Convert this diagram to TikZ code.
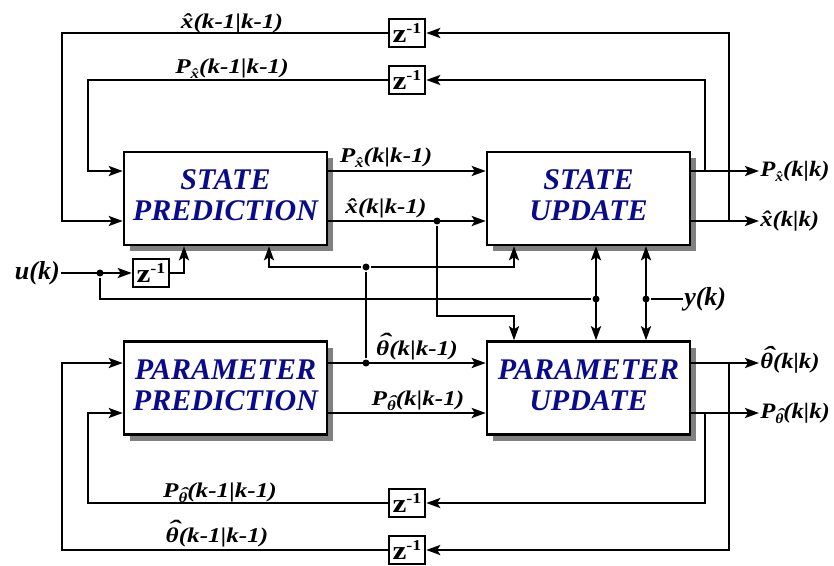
\documentclass[tikz,border=0pt]{standalone}
\usepackage{fontspec}
\usepackage{graphicx}
\setmainfont{Liberation Serif}
\usetikzlibrary{arrows.meta,shadows}
\definecolor{blocktext}{RGB}{10,10,140}

% signal label: bold italic, slightly widened
\newcommand\sig[1]{\scalebox{1.2}[1]{\fontsize{21}{23}\selectfont\bfseries\itshape #1}}
\newcommand\outsig[1]{\scalebox{1.12}[1]{\fontsize{22}{24}\selectfont\bfseries\itshape #1}}
\newcommand\iosig[1]{{\fontsize{26}{28}\selectfont\bfseries\itshape #1}}
% lowered small subscript
\newcommand\lowsub[1]{\raisebox{-5pt}{\fontsize{14}{14}\selectfont #1}}
% theta with a wide hat
\newcommand\thhat{\ooalign{θ\cr\hidewidth\kern0.14em\raisebox{0.24em}{\scalebox{1.5}[1.1]{ˆ}}\hidewidth\cr}}
% unit delay symbol
\newcommand\zinv{\scalebox{1.2}[1]{\fontsize{26}{26}\selectfont\bfseries z\raisebox{9pt}{\fontsize{15}{15}\selectfont -1}}}
% block label depth padding
\newcommand\dpad{\rule[-6pt]{0pt}{6pt}}

\begin{document}
\begin{tikzpicture}[x=1pt,y=-1pt,line width=2.5pt,
  >={Stealth[length=14pt,width=10pt,inset=3pt]},
  block/.style={draw,fill=white,minimum width=203pt,minimum height=93pt,
    inner sep=0pt,align=center,text=blocktext,
    font=\fontsize{30}{31}\selectfont\bfseries\itshape,
    general shadow={fill=black!50,shadow xshift=6pt,shadow yshift=-6pt}},
  delay/.style={draw,fill=white,minimum width=36pt,minimum height=28pt,inner sep=0pt},
  dot/.style={circle,fill,inner sep=0pt,minimum size=7pt},
  lab/.style={inner sep=0pt,anchor=base},
  olab/.style={inner sep=0pt,anchor=west}]
\useasboundingbox (0,0) rectangle (834,565);

% blocks
\node[block] (SP) at (225.5,198.5) {STATE\\PREDICTION\dpad};
\node[block] (SU) at (588.5,198.5) {STATE\\UPDATE\dpad};
\node[block] (PP) at (225.5,388) {PARAMETER\\PREDICTION\dpad};
\node[block] (PU) at (588.5,388) {PARAMETER\\UPDATE\dpad};

% unit delays
\node[delay] (z1) at (407,33) {\zinv};
\node[delay] (z2) at (407,80) {\zinv};
\node[delay] (z3) at (151,273) {\zinv};
\node[delay] (z4) at (407,503) {\zinv};
\node[delay] (z5) at (407,550) {\zinv};

% junction dots
\node[dot] (dx)  at (437,221) {};
\node[dot] (du)  at (100,273) {};
\node[dot] (dth) at (366,363) {};
\node[dot] (dtu) at (366,267) {};
\node[dot] (dy1) at (596,299) {};
\node[dot] (dy2) at (646,299) {};

% external input / measurement
\node[olab,anchor=east] (u) at (61,273) {\iosig{u(k)}};
\node[olab] (y) at (683,299) {\iosig{y(k)}};

% outputs
\node[olab] (oPx) at (759,171) {\outsig{P\lowsub{x̂}(k|k)}};
\node[olab] (ox)  at (759,221) {\outsig{x̂(k|k)}};
\node[olab] (oth) at (759,363) {\outsig{\thhat(k|k)}};
\node[olab] (oPt) at (759,413) {\outsig{P\lowsub{\thhat}(k|k)}};

% signal labels on the lines
\node[lab] (l1) at (232,28)  {\sig{x̂(k-1|k-1)}};
\node[lab] (l2) at (232,73)  {\sig{P\lowsub{x̂}(k-1|k-1)}};
\node[lab] (l3) at (386,162) {\sig{P\lowsub{x̂}(k|k-1)}};
\node[lab] (l4) at (386,213) {\sig{x̂(k|k-1)}};
\node[lab] (l5) at (417,355) {\sig{\thhat(k|k-1)}};
\node[lab] (l6) at (418,405) {\sig{P\lowsub{\thhat}(k|k-1)}};
\node[lab] (l7) at (220,497) {\sig{P\lowsub{\thhat}(k-1|k-1)}};
\node[lab] (l8) at (217,542) {\sig{\thhat(k-1|k-1)}};

% state prediction -> state update
\draw[->] (SP.east |- 0,171) -- (SU.west |- 0,171);
\draw[->] (SP.east |- 0,221) -- (SU.west |- 0,221);
\draw[->] (dx) |- (514,316) -- (PU.north -| 514,0);

% state update outputs and feedback
\draw[->] (SU.east |- 0,171) -- (oPx.west);
\draw[->] (SU.east |- 0,221) -- (ox.west);
\draw[->] (729,221) |- (z1.east);
\draw[->] (z1.west) -| (62,221) -- (SP.west |- 0,221);
\draw[->] (705,171) |- (z2.east);
\draw[->] (z2.west) -| (88,171) -- (SP.west |- 0,171);

% input u(k)
\draw[->] (u.east) -- (z3.west);
\draw[->] (z3.east) -| (SP.south -| 184,0);
\draw (du) |- (dy1);

% measurement y(k)
\draw (y.west) -- (dy2);
\draw[<->] (SU.south -| 596,0) -- (PU.north -| 596,0);
\draw[<->] (SU.south -| 646,0) -- (PU.north -| 646,0);

% parameter prediction -> parameter update
\draw[->] (PP.east |- 0,363) -- (PU.west |- 0,363);
\draw[->] (PP.east |- 0,413) -- (PU.west |- 0,413);
\draw (dth) -- (dtu);
\draw[->] (dtu) -| (SP.south -| 269,0);
\draw[->] (dtu) -| (SU.south -| 514,0);

% parameter update outputs and feedback
\draw[->] (PU.east |- 0,363) -- (oth.west);
\draw[->] (PU.east |- 0,413) -- (oPt.west);
\draw[->] (729,363) |- (z5.east);
\draw[->] (z5.west) -| (62,363) -- (PP.west |- 0,363);
\draw[->] (705,413) |- (z4.east);
\draw[->] (z4.west) -| (88,413) -- (PP.west |- 0,413);
\end{tikzpicture}
\end{document}
